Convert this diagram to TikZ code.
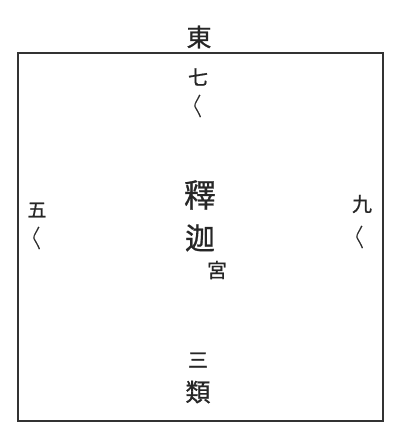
\documentclass[tikz,border=0pt]{standalone}
\usepackage{fontspec}
\newfontfamily\cjk[FakeBold=0.8]{Noto Sans CJK JP}
\tikzset{
  zi/.style={inner sep=0pt, text=black!85, font=\cjk},
  rep/.style={inner sep=0pt, text=black!85, font=\cjk\fontsize{12}{12}\selectfont}
}
\begin{document}
\begin{tikzpicture}[x=1pt,y=-1pt]
\useasboundingbox (0,0) rectangle (403,445);
\draw[black!80, line width=1.3pt] (18,53) rectangle (383,421);
\node[zi, font=\cjk\fontsize{25}{25}\selectfont] (east) at (199,37) {東};
\node[zi, font=\cjk\fontsize{20}{20}\selectfont] (seven) at (198,77) {七};
\node[rep] (sevenrep) at (198,106) {〱};
\node[zi, font=\cjk\fontsize{19}{19}\selectfont] (five) at (37,210) {五};
\node[rep] (fiverep) at (37,238) {〱};
\node[zi, font=\cjk\fontsize{20}{20}\selectfont] (nine) at (362,204) {九};
\node[rep] (ninerep) at (360,237) {〱};
\node[zi, font=\cjk\fontsize{32}{32}\selectfont] (shaka) at (200,195) {釋};
\node[zi, font=\cjk\fontsize{30}{30}\selectfont] (ka) at (200,238) {迦};
\node[zi, font=\cjk\fontsize{20}{20}\selectfont] (palace) at (217,270) {宮};
\node[zi, font=\cjk\fontsize{20}{20}\selectfont] (three) at (198,360) {三};
\node[zi, font=\cjk\fontsize{25}{25}\selectfont] (kind) at (198,392) {類};
\end{tikzpicture}
\end{document}
